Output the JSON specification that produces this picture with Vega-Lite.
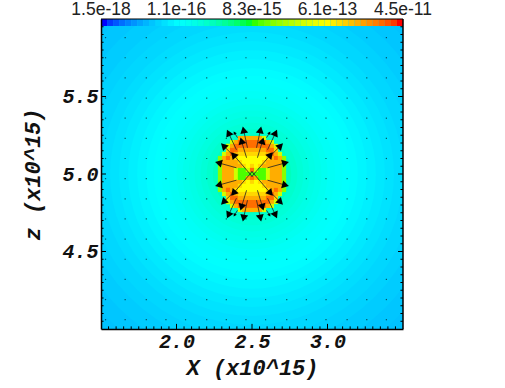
{"autosize":"none","width":302,"height":310,"padding":{"left":101,"top":19,"right":102,"bottom":59},"background":"white","config":{"view":{"stroke":null}},"layer":[
{"data":{"values":[{"x":2.5,"z":5,"r":1.45,"v":-16.62},{"x":2.5,"z":5,"r":1.35,"v":-16.58},{"x":2.5,"z":5,"r":1.25,"v":-16.52},{"x":2.5,"z":5,"r":1.15,"v":-16.46},{"x":2.5,"z":5,"r":1.08,"v":-16.41},{"x":2.5,"z":5,"r":1.0,"v":-16.35},{"x":2.5,"z":5,"r":0.94,"v":-16.28},{"x":2.5,"z":5,"r":0.88,"v":-16.21},{"x":2.5,"z":5,"r":0.82,"v":-16.14},{"x":2.5,"z":5,"r":0.76,"v":-16.07},{"x":2.5,"z":5,"r":0.7,"v":-16.0},{"x":2.5,"z":5,"r":0.65,"v":-15.94},{"x":2.5,"z":5,"r":0.6,"v":-15.88},{"x":2.5,"z":5,"r":0.55,"v":-15.8},{"x":2.5,"z":5,"r":0.5,"v":-15.7},{"x":2.5,"z":5,"r":0.46,"v":-15.62},{"x":2.5,"z":5,"r":0.42,"v":-15.54},{"x":2.5,"z":5,"r":0.38,"v":-15.46},{"x":2.5,"z":5,"r":0.34,"v":-15.36},{"x":2.5,"z":5,"r":0.3,"v":-15.26},{"x":2.5,"z":5,"r":0.26,"v":-15.1}]},"mark":{"type":"point","filled":true,"opacity":1,"clip":true,"strokeWidth":0},"encoding":{"x":{"field":"x","type":"quantitative","scale":{"domain":[1.5,3.5],"nice":false,"zero":false},"axis":{"values":[2,2.5,3],"format":".1f","title":"X (x10^15)","ticks":false,"grid":false,"domainColor":"black","domainWidth":1.5,"labelFont":"Liberation Mono","labelFontWeight":"bold","labelFontStyle":"italic","labelFontSize":20,"labelColor":"#111","labelPadding":2,"labelAngle":0,"labelFlush":false,"titleFont":"Liberation Mono","titleFontWeight":"bold","titleFontStyle":"italic","titleFontSize":22,"titleColor":"#111","titlePadding":6,"zindex":1}},"y":{"field":"z","type":"quantitative","scale":{"domain":[4,6],"nice":false,"zero":false},"axis":{"values":[4.5,5,5.5],"format":".1f","title":"z (x10^15)","ticks":false,"grid":false,"domainColor":"black","domainWidth":1.5,"labelFont":"Liberation Mono","labelFontWeight":"bold","labelFontStyle":"italic","labelFontSize":20,"labelColor":"#111","labelPadding":3,"labelFlush":false,"titleFont":"Liberation Mono","titleFontWeight":"bold","titleFontStyle":"italic","titleFontSize":22,"titleColor":"#111","titlePadding":17,"zindex":1}},"size":{"field":"r","type":"quantitative","legend":null,"scale":{"type":"pow","exponent":2,"domain":[0,1.5],"range":[0,205209]}},"color":{"field":"v","type":"quantitative","legend":null,"scale":{"domain":[-17.82,-15.96,-14.08,-12.21,-10.35],"range":["#0000ff","#00ffff","#00ff00","#ffff00","#ff0000"],"clamp":true}}}},
{"data":{"values":[{"x":1.53,"z":4.06},{"x":1.66,"z":4.06},{"x":1.8,"z":4.06},{"x":1.93,"z":4.06},{"x":2.06,"z":4.06},{"x":2.2,"z":4.06},{"x":2.33,"z":4.06},{"x":2.46,"z":4.06},{"x":2.59,"z":4.06},{"x":2.73,"z":4.06},{"x":2.86,"z":4.06},{"x":2.99,"z":4.06},{"x":3.13,"z":4.06},{"x":3.26,"z":4.06},{"x":3.39,"z":4.06},{"x":1.53,"z":4.19},{"x":1.66,"z":4.19},{"x":1.8,"z":4.19},{"x":1.93,"z":4.19},{"x":2.06,"z":4.19},{"x":2.2,"z":4.19},{"x":2.33,"z":4.19},{"x":2.46,"z":4.19},{"x":2.59,"z":4.19},{"x":2.73,"z":4.19},{"x":2.86,"z":4.19},{"x":2.99,"z":4.19},{"x":3.13,"z":4.19},{"x":3.26,"z":4.19},{"x":3.39,"z":4.19},{"x":1.53,"z":4.32},{"x":1.66,"z":4.32},{"x":1.8,"z":4.32},{"x":1.93,"z":4.32},{"x":2.06,"z":4.32},{"x":2.2,"z":4.32},{"x":2.33,"z":4.32},{"x":2.46,"z":4.32},{"x":2.59,"z":4.32},{"x":2.73,"z":4.32},{"x":2.86,"z":4.32},{"x":2.99,"z":4.32},{"x":3.13,"z":4.32},{"x":3.26,"z":4.32},{"x":3.39,"z":4.32},{"x":1.53,"z":4.45},{"x":1.66,"z":4.45},{"x":1.8,"z":4.45},{"x":1.93,"z":4.45},{"x":2.06,"z":4.45},{"x":2.2,"z":4.45},{"x":2.33,"z":4.45},{"x":2.46,"z":4.45},{"x":2.59,"z":4.45},{"x":2.73,"z":4.45},{"x":2.86,"z":4.45},{"x":2.99,"z":4.45},{"x":3.13,"z":4.45},{"x":3.26,"z":4.45},{"x":3.39,"z":4.45},{"x":1.53,"z":4.58},{"x":1.66,"z":4.58},{"x":1.8,"z":4.58},{"x":1.93,"z":4.58},{"x":2.06,"z":4.58},{"x":2.2,"z":4.58},{"x":2.33,"z":4.58},{"x":2.46,"z":4.58},{"x":2.59,"z":4.58},{"x":2.73,"z":4.58},{"x":2.86,"z":4.58},{"x":2.99,"z":4.58},{"x":3.13,"z":4.58},{"x":3.26,"z":4.58},{"x":3.39,"z":4.58},{"x":1.53,"z":4.71},{"x":1.66,"z":4.71},{"x":1.8,"z":4.71},{"x":1.93,"z":4.71},{"x":2.06,"z":4.71},{"x":2.2,"z":4.71},{"x":2.33,"z":4.71},{"x":2.46,"z":4.71},{"x":2.59,"z":4.71},{"x":2.73,"z":4.71},{"x":2.86,"z":4.71},{"x":2.99,"z":4.71},{"x":3.13,"z":4.71},{"x":3.26,"z":4.71},{"x":3.39,"z":4.71},{"x":1.53,"z":4.84},{"x":1.66,"z":4.84},{"x":1.8,"z":4.84},{"x":1.93,"z":4.84},{"x":2.06,"z":4.84},{"x":2.2,"z":4.84},{"x":2.86,"z":4.84},{"x":2.99,"z":4.84},{"x":3.13,"z":4.84},{"x":3.26,"z":4.84},{"x":3.39,"z":4.84},{"x":1.53,"z":4.97},{"x":1.66,"z":4.97},{"x":1.8,"z":4.97},{"x":1.93,"z":4.97},{"x":2.06,"z":4.97},{"x":2.2,"z":4.97},{"x":2.86,"z":4.97},{"x":2.99,"z":4.97},{"x":3.13,"z":4.97},{"x":3.26,"z":4.97},{"x":3.39,"z":4.97},{"x":1.53,"z":5.1},{"x":1.66,"z":5.1},{"x":1.8,"z":5.1},{"x":1.93,"z":5.1},{"x":2.06,"z":5.1},{"x":2.2,"z":5.1},{"x":2.86,"z":5.1},{"x":2.99,"z":5.1},{"x":3.13,"z":5.1},{"x":3.26,"z":5.1},{"x":3.39,"z":5.1},{"x":1.53,"z":5.23},{"x":1.66,"z":5.23},{"x":1.8,"z":5.23},{"x":1.93,"z":5.23},{"x":2.06,"z":5.23},{"x":2.2,"z":5.23},{"x":2.33,"z":5.23},{"x":2.73,"z":5.23},{"x":2.86,"z":5.23},{"x":2.99,"z":5.23},{"x":3.13,"z":5.23},{"x":3.26,"z":5.23},{"x":3.39,"z":5.23},{"x":1.53,"z":5.36},{"x":1.66,"z":5.36},{"x":1.8,"z":5.36},{"x":1.93,"z":5.36},{"x":2.06,"z":5.36},{"x":2.2,"z":5.36},{"x":2.33,"z":5.36},{"x":2.46,"z":5.36},{"x":2.59,"z":5.36},{"x":2.73,"z":5.36},{"x":2.86,"z":5.36},{"x":2.99,"z":5.36},{"x":3.13,"z":5.36},{"x":3.26,"z":5.36},{"x":3.39,"z":5.36},{"x":1.53,"z":5.49},{"x":1.66,"z":5.49},{"x":1.8,"z":5.49},{"x":1.93,"z":5.49},{"x":2.06,"z":5.49},{"x":2.2,"z":5.49},{"x":2.33,"z":5.49},{"x":2.46,"z":5.49},{"x":2.59,"z":5.49},{"x":2.73,"z":5.49},{"x":2.86,"z":5.49},{"x":2.99,"z":5.49},{"x":3.13,"z":5.49},{"x":3.26,"z":5.49},{"x":3.39,"z":5.49},{"x":1.53,"z":5.62},{"x":1.66,"z":5.62},{"x":1.8,"z":5.62},{"x":1.93,"z":5.62},{"x":2.06,"z":5.62},{"x":2.2,"z":5.62},{"x":2.33,"z":5.62},{"x":2.46,"z":5.62},{"x":2.59,"z":5.62},{"x":2.73,"z":5.62},{"x":2.86,"z":5.62},{"x":2.99,"z":5.62},{"x":3.13,"z":5.62},{"x":3.26,"z":5.62},{"x":3.39,"z":5.62},{"x":1.53,"z":5.75},{"x":1.66,"z":5.75},{"x":1.8,"z":5.75},{"x":1.93,"z":5.75},{"x":2.06,"z":5.75},{"x":2.2,"z":5.75},{"x":2.33,"z":5.75},{"x":2.46,"z":5.75},{"x":2.59,"z":5.75},{"x":2.73,"z":5.75},{"x":2.86,"z":5.75},{"x":2.99,"z":5.75},{"x":3.13,"z":5.75},{"x":3.26,"z":5.75},{"x":3.39,"z":5.75},{"x":1.53,"z":5.88},{"x":1.66,"z":5.88},{"x":1.8,"z":5.88},{"x":1.93,"z":5.88},{"x":2.06,"z":5.88},{"x":2.2,"z":5.88},{"x":2.33,"z":5.88},{"x":2.46,"z":5.88},{"x":2.59,"z":5.88},{"x":2.73,"z":5.88},{"x":2.86,"z":5.88},{"x":2.99,"z":5.88},{"x":3.13,"z":5.88},{"x":3.26,"z":5.88},{"x":3.39,"z":5.88}]},"mark":{"type":"point","shape":"square","filled":true,"size":1.5,"color":"black","opacity":0.6,"strokeWidth":0},"encoding":{"x":{"field":"x","type":"quantitative"},"y":{"field":"z","type":"quantitative"}}},
{"data":{"values":[{"x":2.42,"z":5.232,"v":-11.4},{"x":2.447,"z":5.232,"v":-11.4},{"x":2.473,"z":5.232,"v":-11.4},{"x":2.5,"z":5.232,"v":-11.4},{"x":2.527,"z":5.232,"v":-11.4},{"x":2.553,"z":5.232,"v":-11.4},{"x":2.58,"z":5.232,"v":-12.8},{"x":2.368,"z":5.206,"v":-12.8},{"x":2.394,"z":5.206,"v":-11.4},{"x":2.42,"z":5.206,"v":-10.85},{"x":2.447,"z":5.206,"v":-10.85},{"x":2.473,"z":5.206,"v":-10.85},{"x":2.5,"z":5.206,"v":-10.85},{"x":2.527,"z":5.206,"v":-10.85},{"x":2.553,"z":5.206,"v":-10.85},{"x":2.58,"z":5.206,"v":-10.85},{"x":2.606,"z":5.206,"v":-11.4},{"x":2.632,"z":5.206,"v":-12.8},{"x":2.341,"z":5.181,"v":-12.8},{"x":2.368,"z":5.181,"v":-11.4},{"x":2.394,"z":5.181,"v":-10.85},{"x":2.42,"z":5.181,"v":-10.85},{"x":2.447,"z":5.181,"v":-10.85},{"x":2.473,"z":5.181,"v":-10.85},{"x":2.5,"z":5.181,"v":-10.85},{"x":2.527,"z":5.181,"v":-10.85},{"x":2.553,"z":5.181,"v":-10.85},{"x":2.58,"z":5.181,"v":-10.85},{"x":2.606,"z":5.181,"v":-10.85},{"x":2.632,"z":5.181,"v":-11.4},{"x":2.659,"z":5.181,"v":-12.8},{"x":2.341,"z":5.155,"v":-11.8},{"x":2.368,"z":5.155,"v":-10.85},{"x":2.394,"z":5.155,"v":-10.85},{"x":2.42,"z":5.155,"v":-11.4},{"x":2.447,"z":5.155,"v":-11.4},{"x":2.473,"z":5.155,"v":-11.4},{"x":2.5,"z":5.155,"v":-11.4},{"x":2.527,"z":5.155,"v":-11.4},{"x":2.553,"z":5.155,"v":-11.4},{"x":2.58,"z":5.155,"v":-11.4},{"x":2.606,"z":5.155,"v":-10.85},{"x":2.632,"z":5.155,"v":-10.85},{"x":2.659,"z":5.155,"v":-11.8},{"x":2.315,"z":5.129,"v":-12.8},{"x":2.341,"z":5.129,"v":-11.4},{"x":2.368,"z":5.129,"v":-10.85},{"x":2.394,"z":5.129,"v":-11.4},{"x":2.42,"z":5.129,"v":-11.8},{"x":2.447,"z":5.129,"v":-11.8},{"x":2.473,"z":5.129,"v":-11.8},{"x":2.5,"z":5.129,"v":-11.8},{"x":2.527,"z":5.129,"v":-11.8},{"x":2.553,"z":5.129,"v":-11.8},{"x":2.58,"z":5.129,"v":-11.8},{"x":2.606,"z":5.129,"v":-11.4},{"x":2.632,"z":5.129,"v":-10.85},{"x":2.659,"z":5.129,"v":-11.4},{"x":2.685,"z":5.129,"v":-12.8},{"x":2.288,"z":5.103,"v":-13.5},{"x":2.315,"z":5.103,"v":-11.4},{"x":2.341,"z":5.103,"v":-10.85},{"x":2.368,"z":5.103,"v":-11.4},{"x":2.394,"z":5.103,"v":-11.8},{"x":2.42,"z":5.103,"v":-12.2},{"x":2.447,"z":5.103,"v":-12.2},{"x":2.473,"z":5.103,"v":-12.2},{"x":2.5,"z":5.103,"v":-12.2},{"x":2.527,"z":5.103,"v":-12.2},{"x":2.553,"z":5.103,"v":-12.2},{"x":2.58,"z":5.103,"v":-12.2},{"x":2.606,"z":5.103,"v":-11.8},{"x":2.632,"z":5.103,"v":-11.4},{"x":2.659,"z":5.103,"v":-10.85},{"x":2.685,"z":5.103,"v":-11.4},{"x":2.712,"z":5.103,"v":-13.5},{"x":2.288,"z":5.077,"v":-13.5},{"x":2.315,"z":5.077,"v":-11.4},{"x":2.341,"z":5.077,"v":-11.4},{"x":2.368,"z":5.077,"v":-11.4},{"x":2.394,"z":5.077,"v":-11.4},{"x":2.42,"z":5.077,"v":-11.8},{"x":2.447,"z":5.077,"v":-12.2},{"x":2.473,"z":5.077,"v":-12.2},{"x":2.5,"z":5.077,"v":-12.2},{"x":2.527,"z":5.077,"v":-12.2},{"x":2.553,"z":5.077,"v":-12.2},{"x":2.58,"z":5.077,"v":-11.8},{"x":2.606,"z":5.077,"v":-11.4},{"x":2.632,"z":5.077,"v":-11.4},{"x":2.659,"z":5.077,"v":-11.4},{"x":2.685,"z":5.077,"v":-11.4},{"x":2.712,"z":5.077,"v":-13.5},{"x":2.288,"z":5.052,"v":-13.5},{"x":2.315,"z":5.052,"v":-11.4},{"x":2.341,"z":5.052,"v":-11.4},{"x":2.368,"z":5.052,"v":-11.4},{"x":2.394,"z":5.052,"v":-11.4},{"x":2.42,"z":5.052,"v":-11.4},{"x":2.447,"z":5.052,"v":-11.8},{"x":2.473,"z":5.052,"v":-12.2},{"x":2.5,"z":5.052,"v":-11.8},{"x":2.527,"z":5.052,"v":-12.2},{"x":2.553,"z":5.052,"v":-11.8},{"x":2.58,"z":5.052,"v":-11.4},{"x":2.606,"z":5.052,"v":-11.4},{"x":2.632,"z":5.052,"v":-11.4},{"x":2.659,"z":5.052,"v":-11.4},{"x":2.685,"z":5.052,"v":-11.4},{"x":2.712,"z":5.052,"v":-13.5},{"x":2.288,"z":5.026,"v":-13.5},{"x":2.315,"z":5.026,"v":-11.4},{"x":2.341,"z":5.026,"v":-11.4},{"x":2.368,"z":5.026,"v":-11.4},{"x":2.394,"z":5.026,"v":-12.8},{"x":2.42,"z":5.026,"v":-13.9},{"x":2.447,"z":5.026,"v":-13.9},{"x":2.473,"z":5.026,"v":-12.8},{"x":2.5,"z":5.026,"v":-10.85},{"x":2.527,"z":5.026,"v":-12.8},{"x":2.553,"z":5.026,"v":-13.9},{"x":2.58,"z":5.026,"v":-13.9},{"x":2.606,"z":5.026,"v":-12.8},{"x":2.632,"z":5.026,"v":-11.4},{"x":2.659,"z":5.026,"v":-11.4},{"x":2.685,"z":5.026,"v":-11.4},{"x":2.712,"z":5.026,"v":-13.5},{"x":2.288,"z":5,"v":-13.5},{"x":2.315,"z":5,"v":-11.4},{"x":2.341,"z":5,"v":-11.4},{"x":2.368,"z":5,"v":-11.4},{"x":2.394,"z":5,"v":-12.8},{"x":2.42,"z":5,"v":-13.9},{"x":2.447,"z":5,"v":-13.9},{"x":2.473,"z":5,"v":-13.9},{"x":2.5,"z":5,"v":-13.9},{"x":2.527,"z":5,"v":-13.9},{"x":2.553,"z":5,"v":-13.9},{"x":2.58,"z":5,"v":-13.9},{"x":2.606,"z":5,"v":-12.8},{"x":2.632,"z":5,"v":-11.4},{"x":2.659,"z":5,"v":-11.4},{"x":2.685,"z":5,"v":-11.4},{"x":2.712,"z":5,"v":-13.5},{"x":2.288,"z":4.974,"v":-13.5},{"x":2.315,"z":4.974,"v":-11.4},{"x":2.341,"z":4.974,"v":-11.4},{"x":2.368,"z":4.974,"v":-11.4},{"x":2.394,"z":4.974,"v":-12.8},{"x":2.42,"z":4.974,"v":-13.9},{"x":2.447,"z":4.974,"v":-13.9},{"x":2.473,"z":4.974,"v":-11.4},{"x":2.5,"z":4.974,"v":-10.85},{"x":2.527,"z":4.974,"v":-11.4},{"x":2.553,"z":4.974,"v":-13.9},{"x":2.58,"z":4.974,"v":-13.9},{"x":2.606,"z":4.974,"v":-12.8},{"x":2.632,"z":4.974,"v":-11.4},{"x":2.659,"z":4.974,"v":-11.4},{"x":2.685,"z":4.974,"v":-11.4},{"x":2.712,"z":4.974,"v":-13.5},{"x":2.288,"z":4.948,"v":-13.5},{"x":2.315,"z":4.948,"v":-11.4},{"x":2.341,"z":4.948,"v":-11.4},{"x":2.368,"z":4.948,"v":-11.4},{"x":2.394,"z":4.948,"v":-11.4},{"x":2.42,"z":4.948,"v":-11.4},{"x":2.447,"z":4.948,"v":-11.8},{"x":2.473,"z":4.948,"v":-12.2},{"x":2.5,"z":4.948,"v":-11.8},{"x":2.527,"z":4.948,"v":-12.2},{"x":2.553,"z":4.948,"v":-11.8},{"x":2.58,"z":4.948,"v":-11.4},{"x":2.606,"z":4.948,"v":-11.4},{"x":2.632,"z":4.948,"v":-11.4},{"x":2.659,"z":4.948,"v":-11.4},{"x":2.685,"z":4.948,"v":-11.4},{"x":2.712,"z":4.948,"v":-13.5},{"x":2.288,"z":4.923,"v":-13.5},{"x":2.315,"z":4.923,"v":-11.4},{"x":2.341,"z":4.923,"v":-11.4},{"x":2.368,"z":4.923,"v":-11.4},{"x":2.394,"z":4.923,"v":-11.4},{"x":2.42,"z":4.923,"v":-11.8},{"x":2.447,"z":4.923,"v":-12.2},{"x":2.473,"z":4.923,"v":-12.2},{"x":2.5,"z":4.923,"v":-12.2},{"x":2.527,"z":4.923,"v":-12.2},{"x":2.553,"z":4.923,"v":-12.2},{"x":2.58,"z":4.923,"v":-11.8},{"x":2.606,"z":4.923,"v":-11.4},{"x":2.632,"z":4.923,"v":-11.4},{"x":2.659,"z":4.923,"v":-11.4},{"x":2.685,"z":4.923,"v":-11.4},{"x":2.712,"z":4.923,"v":-13.5},{"x":2.288,"z":4.897,"v":-13.5},{"x":2.315,"z":4.897,"v":-11.4},{"x":2.341,"z":4.897,"v":-10.85},{"x":2.368,"z":4.897,"v":-11.4},{"x":2.394,"z":4.897,"v":-11.8},{"x":2.42,"z":4.897,"v":-12.2},{"x":2.447,"z":4.897,"v":-12.2},{"x":2.473,"z":4.897,"v":-12.2},{"x":2.5,"z":4.897,"v":-12.2},{"x":2.527,"z":4.897,"v":-12.2},{"x":2.553,"z":4.897,"v":-12.2},{"x":2.58,"z":4.897,"v":-12.2},{"x":2.606,"z":4.897,"v":-11.8},{"x":2.632,"z":4.897,"v":-11.4},{"x":2.659,"z":4.897,"v":-10.85},{"x":2.685,"z":4.897,"v":-11.4},{"x":2.712,"z":4.897,"v":-13.5},{"x":2.315,"z":4.871,"v":-12.8},{"x":2.341,"z":4.871,"v":-11.4},{"x":2.368,"z":4.871,"v":-10.85},{"x":2.394,"z":4.871,"v":-11.4},{"x":2.42,"z":4.871,"v":-11.8},{"x":2.447,"z":4.871,"v":-11.8},{"x":2.473,"z":4.871,"v":-11.8},{"x":2.5,"z":4.871,"v":-11.8},{"x":2.527,"z":4.871,"v":-11.8},{"x":2.553,"z":4.871,"v":-11.8},{"x":2.58,"z":4.871,"v":-11.8},{"x":2.606,"z":4.871,"v":-11.4},{"x":2.632,"z":4.871,"v":-10.85},{"x":2.659,"z":4.871,"v":-11.4},{"x":2.685,"z":4.871,"v":-12.8},{"x":2.341,"z":4.845,"v":-11.8},{"x":2.368,"z":4.845,"v":-10.85},{"x":2.394,"z":4.845,"v":-10.85},{"x":2.42,"z":4.845,"v":-11.4},{"x":2.447,"z":4.845,"v":-11.4},{"x":2.473,"z":4.845,"v":-11.4},{"x":2.5,"z":4.845,"v":-11.4},{"x":2.527,"z":4.845,"v":-11.4},{"x":2.553,"z":4.845,"v":-11.4},{"x":2.58,"z":4.845,"v":-11.4},{"x":2.606,"z":4.845,"v":-10.85},{"x":2.632,"z":4.845,"v":-10.85},{"x":2.659,"z":4.845,"v":-11.8},{"x":2.341,"z":4.819,"v":-12.8},{"x":2.368,"z":4.819,"v":-11.4},{"x":2.394,"z":4.819,"v":-10.85},{"x":2.42,"z":4.819,"v":-10.85},{"x":2.447,"z":4.819,"v":-10.85},{"x":2.473,"z":4.819,"v":-10.85},{"x":2.5,"z":4.819,"v":-10.85},{"x":2.527,"z":4.819,"v":-10.85},{"x":2.553,"z":4.819,"v":-10.85},{"x":2.58,"z":4.819,"v":-10.85},{"x":2.606,"z":4.819,"v":-10.85},{"x":2.632,"z":4.819,"v":-11.4},{"x":2.659,"z":4.819,"v":-12.8},{"x":2.368,"z":4.794,"v":-12.8},{"x":2.394,"z":4.794,"v":-11.4},{"x":2.42,"z":4.794,"v":-10.85},{"x":2.447,"z":4.794,"v":-10.85},{"x":2.473,"z":4.794,"v":-10.85},{"x":2.5,"z":4.794,"v":-10.85},{"x":2.527,"z":4.794,"v":-10.85},{"x":2.553,"z":4.794,"v":-10.85},{"x":2.58,"z":4.794,"v":-10.85},{"x":2.606,"z":4.794,"v":-11.4},{"x":2.632,"z":4.794,"v":-12.8},{"x":2.42,"z":4.768,"v":-12.8},{"x":2.447,"z":4.768,"v":-11.4},{"x":2.473,"z":4.768,"v":-11.4},{"x":2.5,"z":4.768,"v":-11.4},{"x":2.527,"z":4.768,"v":-11.4},{"x":2.553,"z":4.768,"v":-11.4},{"x":2.58,"z":4.768,"v":-12.8}]},"mark":{"type":"rect","width":4.2,"height":4.2},"encoding":{"x":{"field":"x","type":"quantitative"},"y":{"field":"z","type":"quantitative"},"color":{"field":"v","type":"quantitative","legend":null}}},
{"data":{"values":[{"x":2.503,"z":4.982,"e":2.377,"f":5.124,"a":-41,"m":1},{"x":2.371,"z":5.124,"e":2.311,"f":5.182,"a":-45,"m":1},{"x":2.464,"z":5.105,"e":2.43,"f":5.214,"a":-16,"m":1},{"x":2.47,"z":5.169,"e":2.444,"f":5.285,"a":-12,"m":1},{"x":2.397,"z":5.156,"e":2.344,"f":5.266,"a":-25,"m":1},{"x":2.397,"z":5.04,"e":2.278,"f":5.072,"a":-75,"m":1},{"x":2.404,"z":5.234,"e":2.384,"f":5.266,"a":-31,"m":0.2},{"x":2.497,"z":4.982,"e":2.623,"f":5.124,"a":41,"m":1},{"x":2.629,"z":5.124,"e":2.689,"f":5.182,"a":45,"m":1},{"x":2.536,"z":5.105,"e":2.57,"f":5.214,"a":16,"m":1},{"x":2.53,"z":5.169,"e":2.556,"f":5.285,"a":12,"m":1},{"x":2.603,"z":5.156,"e":2.656,"f":5.266,"a":25,"m":1},{"x":2.603,"z":5.04,"e":2.722,"f":5.072,"a":75,"m":1},{"x":2.596,"z":5.234,"e":2.616,"f":5.266,"a":31,"m":0.2},{"x":2.503,"z":5.018,"e":2.377,"f":4.876,"a":-139,"m":1},{"x":2.371,"z":4.876,"e":2.311,"f":4.818,"a":-135,"m":1},{"x":2.464,"z":4.895,"e":2.43,"f":4.786,"a":-164,"m":1},{"x":2.47,"z":4.831,"e":2.444,"f":4.715,"a":-168,"m":1},{"x":2.397,"z":4.844,"e":2.344,"f":4.734,"a":-155,"m":1},{"x":2.397,"z":4.96,"e":2.278,"f":4.928,"a":-105,"m":1},{"x":2.404,"z":4.766,"e":2.384,"f":4.734,"a":-149,"m":0.2},{"x":2.497,"z":5.018,"e":2.623,"f":4.876,"a":139,"m":1},{"x":2.629,"z":4.876,"e":2.689,"f":4.818,"a":135,"m":1},{"x":2.536,"z":4.895,"e":2.57,"f":4.786,"a":164,"m":1},{"x":2.53,"z":4.831,"e":2.556,"f":4.715,"a":168,"m":1},{"x":2.603,"z":4.844,"e":2.656,"f":4.734,"a":155,"m":1},{"x":2.603,"z":4.96,"e":2.722,"f":4.928,"a":105,"m":1},{"x":2.596,"z":4.766,"e":2.616,"f":4.734,"a":149,"m":0.2}]},"layer":[{"mark":{"type":"rule","color":"#222","strokeWidth":1,"opacity":0.8},"encoding":{"x":{"field":"x","type":"quantitative"},"y":{"field":"z","type":"quantitative"},"x2":{"field":"e"},"y2":{"field":"f"}}},{"transform":[{"filter":"datum.m==1"}],"mark":{"type":"point","shape":"triangle-up","size":64,"filled":true,"color":"black","opacity":1,"strokeWidth":0},"encoding":{"x":{"field":"e","type":"quantitative"},"y":{"field":"f","type":"quantitative"},"angle":{"field":"a","type":"quantitative","scale":{"domain":[-180,180],"range":[-180,180]}}}},{"transform":[{"filter":"datum.m<1"}],"mark":{"type":"point","shape":"triangle-up","size":13,"filled":true,"color":"black","opacity":1,"strokeWidth":0},"encoding":{"x":{"field":"e","type":"quantitative"},"y":{"field":"f","type":"quantitative"},"angle":{"field":"a","type":"quantitative","scale":{"domain":[-180,180],"range":[-180,180]}}}}]},
{"data":{"values":[{"p":1.55,"o":4,"b":4.017},{"p":1.6,"o":4,"b":4.017},{"p":1.65,"o":4,"b":4.017},{"p":1.7,"o":4,"b":4.017},{"p":1.75,"o":4,"b":4.017},{"p":1.8,"o":4,"b":4.017},{"p":1.85,"o":4,"b":4.017},{"p":1.9,"o":4,"b":4.017},{"p":1.95,"o":4,"b":4.017},{"p":2.0,"o":4,"b":4.033},{"p":2.05,"o":4,"b":4.017},{"p":2.1,"o":4,"b":4.017},{"p":2.15,"o":4,"b":4.017},{"p":2.2,"o":4,"b":4.017},{"p":2.25,"o":4,"b":4.017},{"p":2.3,"o":4,"b":4.017},{"p":2.35,"o":4,"b":4.017},{"p":2.4,"o":4,"b":4.017},{"p":2.45,"o":4,"b":4.017},{"p":2.5,"o":4,"b":4.033},{"p":2.55,"o":4,"b":4.017},{"p":2.6,"o":4,"b":4.017},{"p":2.65,"o":4,"b":4.017},{"p":2.7,"o":4,"b":4.017},{"p":2.75,"o":4,"b":4.017},{"p":2.8,"o":4,"b":4.017},{"p":2.85,"o":4,"b":4.017},{"p":2.9,"o":4,"b":4.017},{"p":2.95,"o":4,"b":4.017},{"p":3.0,"o":4,"b":4.033},{"p":3.05,"o":4,"b":4.017},{"p":3.1,"o":4,"b":4.017},{"p":3.15,"o":4,"b":4.017},{"p":3.2,"o":4,"b":4.017},{"p":3.25,"o":4,"b":4.017},{"p":3.3,"o":4,"b":4.017},{"p":3.35,"o":4,"b":4.017},{"p":3.4,"o":4,"b":4.017},{"p":3.45,"o":4,"b":4.017}]},"mark":{"type":"rule","color":"black","strokeWidth":1},"encoding":{"x":{"field":"p","type":"quantitative"},"y":{"field":"o","type":"quantitative"},"y2":{"field":"b"}}},
{"data":{"values":[{"p":4.05,"a":1.5,"l":1.517,"c":3.5,"r":3.483},{"p":4.1,"a":1.5,"l":1.517,"c":3.5,"r":3.483},{"p":4.15,"a":1.5,"l":1.517,"c":3.5,"r":3.483},{"p":4.2,"a":1.5,"l":1.517,"c":3.5,"r":3.483},{"p":4.25,"a":1.5,"l":1.517,"c":3.5,"r":3.483},{"p":4.3,"a":1.5,"l":1.517,"c":3.5,"r":3.483},{"p":4.35,"a":1.5,"l":1.517,"c":3.5,"r":3.483},{"p":4.4,"a":1.5,"l":1.517,"c":3.5,"r":3.483},{"p":4.45,"a":1.5,"l":1.517,"c":3.5,"r":3.483},{"p":4.5,"a":1.5,"l":1.533,"c":3.5,"r":3.467},{"p":4.55,"a":1.5,"l":1.517,"c":3.5,"r":3.483},{"p":4.6,"a":1.5,"l":1.517,"c":3.5,"r":3.483},{"p":4.65,"a":1.5,"l":1.517,"c":3.5,"r":3.483},{"p":4.7,"a":1.5,"l":1.517,"c":3.5,"r":3.483},{"p":4.75,"a":1.5,"l":1.517,"c":3.5,"r":3.483},{"p":4.8,"a":1.5,"l":1.517,"c":3.5,"r":3.483},{"p":4.85,"a":1.5,"l":1.517,"c":3.5,"r":3.483},{"p":4.9,"a":1.5,"l":1.517,"c":3.5,"r":3.483},{"p":4.95,"a":1.5,"l":1.517,"c":3.5,"r":3.483},{"p":5.0,"a":1.5,"l":1.533,"c":3.5,"r":3.467},{"p":5.05,"a":1.5,"l":1.517,"c":3.5,"r":3.483},{"p":5.1,"a":1.5,"l":1.517,"c":3.5,"r":3.483},{"p":5.15,"a":1.5,"l":1.517,"c":3.5,"r":3.483},{"p":5.2,"a":1.5,"l":1.517,"c":3.5,"r":3.483},{"p":5.25,"a":1.5,"l":1.517,"c":3.5,"r":3.483},{"p":5.3,"a":1.5,"l":1.517,"c":3.5,"r":3.483},{"p":5.35,"a":1.5,"l":1.517,"c":3.5,"r":3.483},{"p":5.4,"a":1.5,"l":1.517,"c":3.5,"r":3.483},{"p":5.45,"a":1.5,"l":1.517,"c":3.5,"r":3.483},{"p":5.5,"a":1.5,"l":1.533,"c":3.5,"r":3.467},{"p":5.55,"a":1.5,"l":1.517,"c":3.5,"r":3.483},{"p":5.6,"a":1.5,"l":1.517,"c":3.5,"r":3.483},{"p":5.65,"a":1.5,"l":1.517,"c":3.5,"r":3.483},{"p":5.7,"a":1.5,"l":1.517,"c":3.5,"r":3.483},{"p":5.75,"a":1.5,"l":1.517,"c":3.5,"r":3.483},{"p":5.8,"a":1.5,"l":1.517,"c":3.5,"r":3.483},{"p":5.85,"a":1.5,"l":1.517,"c":3.5,"r":3.483},{"p":5.9,"a":1.5,"l":1.517,"c":3.5,"r":3.483},{"p":5.95,"a":1.5,"l":1.517,"c":3.5,"r":3.483}]},"layer":[{"mark":{"type":"rule","color":"black","strokeWidth":1},"encoding":{"y":{"field":"p","type":"quantitative"},"x":{"field":"a","type":"quantitative"},"x2":{"field":"l"}}},{"mark":{"type":"rule","color":"black","strokeWidth":1},"encoding":{"y":{"field":"p","type":"quantitative"},"x":{"field":"c","type":"quantitative"},"x2":{"field":"r"}}}]},
{"data":{"values":[{"x":1.5,"e":1.54,"u":5.955,"w":6,"v":-17.82},{"x":1.54,"e":1.58,"u":5.955,"w":6,"v":-17.67},{"x":1.58,"e":1.62,"u":5.955,"w":6,"v":-17.52},{"x":1.62,"e":1.66,"u":5.955,"w":6,"v":-17.36},{"x":1.66,"e":1.7,"u":5.955,"w":6,"v":-17.21},{"x":1.7,"e":1.74,"u":5.955,"w":6,"v":-17.06},{"x":1.74,"e":1.78,"u":5.955,"w":6,"v":-16.91},{"x":1.78,"e":1.82,"u":5.955,"w":6,"v":-16.76},{"x":1.82,"e":1.86,"u":5.955,"w":6,"v":-16.6},{"x":1.86,"e":1.9,"u":5.955,"w":6,"v":-16.45},{"x":1.9,"e":1.94,"u":5.955,"w":6,"v":-16.3},{"x":1.94,"e":1.98,"u":5.955,"w":6,"v":-16.15},{"x":1.98,"e":2.02,"u":5.955,"w":6,"v":-15.99},{"x":2.02,"e":2.06,"u":5.955,"w":6,"v":-15.84},{"x":2.06,"e":2.1,"u":5.955,"w":6,"v":-15.69},{"x":2.1,"e":2.14,"u":5.955,"w":6,"v":-15.54},{"x":2.14,"e":2.18,"u":5.955,"w":6,"v":-15.39},{"x":2.18,"e":2.22,"u":5.955,"w":6,"v":-15.23},{"x":2.22,"e":2.26,"u":5.955,"w":6,"v":-15.08},{"x":2.26,"e":2.3,"u":5.955,"w":6,"v":-14.93},{"x":2.3,"e":2.34,"u":5.955,"w":6,"v":-14.78},{"x":2.34,"e":2.38,"u":5.955,"w":6,"v":-14.63},{"x":2.38,"e":2.42,"u":5.955,"w":6,"v":-14.47},{"x":2.42,"e":2.46,"u":5.955,"w":6,"v":-14.32},{"x":2.46,"e":2.5,"u":5.955,"w":6,"v":-14.17},{"x":2.5,"e":2.54,"u":5.955,"w":6,"v":-14.0},{"x":2.54,"e":2.58,"u":5.955,"w":6,"v":-13.85},{"x":2.58,"e":2.62,"u":5.955,"w":6,"v":-13.7},{"x":2.62,"e":2.66,"u":5.955,"w":6,"v":-13.55},{"x":2.66,"e":2.7,"u":5.955,"w":6,"v":-13.4},{"x":2.7,"e":2.74,"u":5.955,"w":6,"v":-13.25},{"x":2.74,"e":2.78,"u":5.955,"w":6,"v":-13.1},{"x":2.78,"e":2.82,"u":5.955,"w":6,"v":-12.94},{"x":2.82,"e":2.86,"u":5.955,"w":6,"v":-12.79},{"x":2.86,"e":2.9,"u":5.955,"w":6,"v":-12.64},{"x":2.9,"e":2.94,"u":5.955,"w":6,"v":-12.49},{"x":2.94,"e":2.98,"u":5.955,"w":6,"v":-12.34},{"x":2.98,"e":3.02,"u":5.955,"w":6,"v":-12.18},{"x":3.02,"e":3.06,"u":5.955,"w":6,"v":-12.03},{"x":3.06,"e":3.1,"u":5.955,"w":6,"v":-11.88},{"x":3.1,"e":3.14,"u":5.955,"w":6,"v":-11.73},{"x":3.14,"e":3.18,"u":5.955,"w":6,"v":-11.58},{"x":3.18,"e":3.22,"u":5.955,"w":6,"v":-11.42},{"x":3.22,"e":3.26,"u":5.955,"w":6,"v":-11.27},{"x":3.26,"e":3.3,"u":5.955,"w":6,"v":-11.12},{"x":3.3,"e":3.34,"u":5.955,"w":6,"v":-10.97},{"x":3.34,"e":3.38,"u":5.955,"w":6,"v":-10.82},{"x":3.38,"e":3.42,"u":5.955,"w":6,"v":-10.66},{"x":3.42,"e":3.46,"u":5.955,"w":6,"v":-10.51},{"x":3.46,"e":3.5,"u":5.955,"w":6,"v":-10.35}]},"mark":{"type":"rect"},"encoding":{"x":{"field":"x","type":"quantitative"},"x2":{"field":"e"},"y":{"field":"u","type":"quantitative"},"y2":{"field":"w"},"color":{"field":"v","type":"quantitative","legend":null}}},
{"data":{"values":[{"z":6}]},"mark":{"type":"rule","color":"black","strokeWidth":1.2},"encoding":{"y":{"field":"z","type":"quantitative"}}},
{"data":{"values":[{"x":3.5}]},"mark":{"type":"rule","color":"black","strokeWidth":1.5},"encoding":{"x":{"field":"x","type":"quantitative"}}},
{"data":{"values":[{"x":1.5,"z":6.061,"t":"1.5e-18"},{"x":2.0,"z":6.061,"t":"1.1e-16"},{"x":2.5,"z":6.061,"t":"8.3e-15"},{"x":3.0,"z":6.061,"t":"6.1e-13"},{"x":3.5,"z":6.061,"t":"4.5e-11"}]},"mark":{"type":"text","font":"Liberation Sans","fontSize":17.5,"color":"#222","baseline":"middle","align":"center"},"encoding":{"x":{"field":"x","type":"quantitative"},"y":{"field":"z","type":"quantitative"},"text":{"field":"t"}}}
]}
